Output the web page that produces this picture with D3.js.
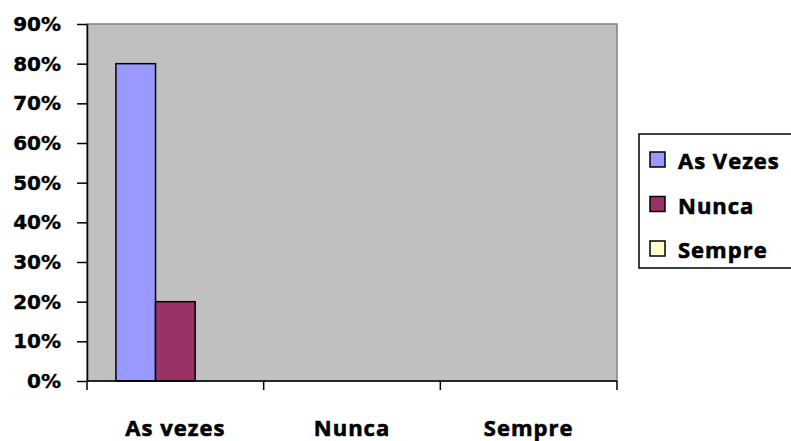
<!DOCTYPE html>
<html><head><meta charset="utf-8">
<script src="https://cdn.jsdelivr.net/npm/d3@7"></script>
<style>body{margin:0;background:#fff}svg{display:block}</style>
</head><body>
<svg id="c" width="791" height="441"></svg>
<script>
const categories = ["As vezes", "Nunca", "Sempre"];
const seriesNames = ["As Vezes", "Nunca", "Sempre"];
const seriesColors = ["#9999FF", "#993366", "#FFFFCC"];
const asVezes = [0.80, 0, 0];
const nunca = [0.20, 0, 0];
const sempre = [0, 0, 0];
const yTicks = [0, 0.1, 0.2, 0.3, 0.4, 0.5, 0.6, 0.7, 0.8, 0.9];

const series = [asVezes, nunca, sempre];
const svg = d3.select("#c");
const L = 87, R = 617, T = 24, B = 381;

const x = d3.scaleBand().domain(categories).range([L, R]).paddingInner(0).paddingOuter(0);
const x1 = d3.scaleBand().domain(seriesNames).range([0, x.bandwidth()]).paddingInner(0).paddingOuter(0.73);
const y = d3.scaleLinear().domain([0, 0.9]).range([B, T]);

svg.append("rect").attr("x", L).attr("y", T).attr("width", R - L).attr("height", B - T)
  .attr("fill", "#C0C0C0").attr("stroke", "#808080").attr("stroke-width", 1.5);

categories.forEach((c, ci) => {
  series.forEach((s, si) => {
    const v = s[ci];
    if (v <= 0) return;
    svg.append("rect")
      .attr("x", x(c) + x1(seriesNames[si]))
      .attr("y", y(v))
      .attr("width", x1.bandwidth())
      .attr("height", y(0) - y(v))
      .attr("fill", seriesColors[si])
      .attr("stroke", "#000").attr("stroke-width", 1.5);
  });
});

const yAxis = svg.append("g").attr("transform", `translate(${L},0)`)
  .call(d3.axisLeft(y).tickValues(yTicks).tickFormat(d3.format(".0%")).tickSizeInner(10).tickSizeOuter(0).tickPadding(16));
yAxis.select(".domain").attr("stroke", "#000").attr("stroke-width", 1.5);
yAxis.selectAll(".tick line").attr("stroke", "#000").attr("stroke-width", 1.5);
yAxis.selectAll(".tick text").attr("font-family", "DejaVu Sans").attr("font-weight", "bold")
  .attr("font-size", 20).attr("fill", "#000").attr("stroke", "#000").attr("stroke-width", 0.4);

const xAxis = svg.append("g").attr("transform", `translate(0,${B})`)
  .call(d3.axisBottom(x).tickSize(0).tickPadding(0));
xAxis.select(".domain").remove();
xAxis.append("line").attr("x1", L).attr("x2", R).attr("stroke", "#000").attr("stroke-width", 1.5);
const bounds = [L, ...categories.map(c => x(c) + x.bandwidth())];
xAxis.selectAll(".bt").data(bounds).enter().append("line")
  .attr("x1", d => d).attr("x2", d => d).attr("y1", 0).attr("y2", 9)
  .attr("stroke", "#000").attr("stroke-width", 1.5);
xAxis.selectAll(".tick text").attr("y", 55).attr("dy", 0)
  .attr("font-family", "Open Sans").attr("font-weight", "bold").attr("font-size", 22)
  .attr("letter-spacing", 1).attr("fill", "#000").attr("stroke", "#000").attr("stroke-width", 0.6);

const lg = svg.append("g");
lg.append("rect").attr("x", 639).attr("y", 134).attr("width", 170).attr("height", 134)
  .attr("fill", "#fff").attr("stroke", "#000").attr("stroke-width", 1.5);
seriesNames.forEach((n, i) => {
  const base = 169 + i * 44.5;
  lg.append("rect").attr("x", 650).attr("y", base - 17).attr("width", 15).attr("height", 15)
    .attr("fill", seriesColors[i]).attr("stroke", "#000").attr("stroke-width", 1.5);
  lg.append("text").attr("x", 678).attr("y", base).text(n)
    .attr("font-family", "Open Sans").attr("font-weight", "bold").attr("font-size", 22)
    .attr("letter-spacing", 1).attr("fill", "#000").attr("stroke", "#000").attr("stroke-width", 0.6);
});
</script>
</body></html>
